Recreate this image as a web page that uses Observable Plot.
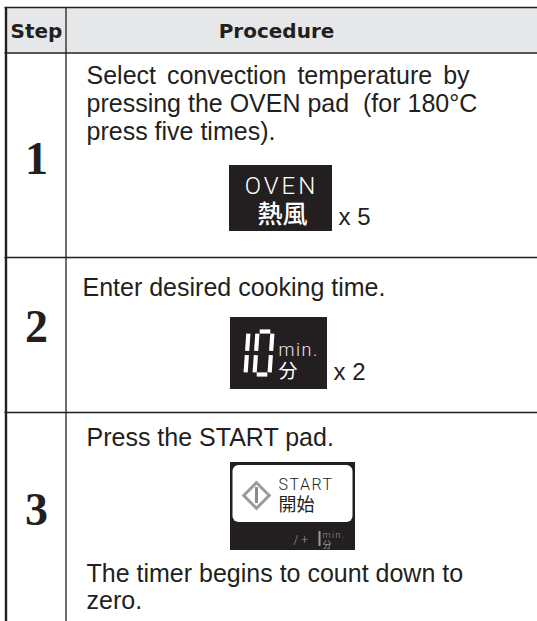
<!DOCTYPE html>
<html>
<head>
<meta charset="utf-8">
<script src="https://cdn.jsdelivr.net/npm/d3@7"></script>
<script src="https://cdn.jsdelivr.net/npm/@observablehq/plot@0.6"></script>
<style>
  html, body { margin: 0; padding: 0; background: #fff; }
</style>
</head>
<body>
<div id="chart"></div>
<script>
// ---------- content ----------
const headers = ["Step", "Procedure"];
const steps = ["1", "2", "3"];
const procedureLines = [
  ["Select convection temperature by", "pressing the OVEN pad\u00a0 (for 180°C", "press five times)."],
  ["Enter desired cooking time."],
  ["Press the START pad."]
];
const closingLines = [[], [], ["The timer begins to count down to", "zero."]];
const padLabels = ["OVEN", "10", "START"];
const padJapanese = ["熱風", "分", "開始"];
const padUnits = ["", "min.", ""];
const pressCounts = ["x 5", "x 2", ""];
const displayDigits = ["1", "0"];
const sevenSegments = {"0": "abcdef", "1": "bc"};
const startStrip = ["/ +", "min.", "分"];

// ---------- layout ----------
const W = 537, H = 621;
const ink = "#231f20";
const sans = "Liberation Sans, Arial, sans-serif";
const cjk = "Noto Sans CJK JP, sans-serif";
const grid = {left: 5.5, divider: 65.5, right: 537, top: 7, headerBottom: 52.5, rowBottoms: [257, 412, 621]};
const textX = [86, 82, 86];
const lineBaselines = [[83, 111, 139], [295], [445]];
const closingBaselines = [[], [], [581, 608]];
const stepBaselines = [173, 341, 524];
const padBoxes = [
  {x1: 229, x2: 332, y1: 165, y2: 231},
  {x1: 230, x2: 327, y1: 317, y2: 389},
  {x1: 230, x2: 355, y1: 462, y2: 550}
];
const countPos = [{x: 338, y: 224}, {x: 333, y: 379}];

// seven-segment geometry for the "10" display
const seg = {x0: 230, pitch: 24, w: 15, top: 331, bottom: 374, slant: 0.07, gap: 2.2};
function segLines() {
  const out = [];
  const mid = (seg.top + seg.bottom) / 2;
  const sk = (x, y) => x + (seg.bottom - y) * seg.slant;
  displayDigits.forEach((d, i) => {
    const x0 = seg.x0 + i * seg.pitch, x1 = x0 + seg.w, g = seg.gap;
    const defs = {
      a: [x0 + g, seg.top, x1 - g, seg.top],
      b: [x1, seg.top + g, x1, mid - g],
      c: [x1, mid + g, x1, seg.bottom - g],
      d: [x0 + g, seg.bottom, x1 - g, seg.bottom],
      e: [x0, mid + g, x0, seg.bottom - g],
      f: [x0, seg.top + g, x0, mid - g],
      g: [x0 + g, mid, x1 - g, mid]
    };
    for (const s of sevenSegments[d]) {
      const [ax, ay, bx, by] = defs[s];
      out.push({x1: sk(ax, ay), y1: ay, x2: sk(bx, by), y2: by});
    }
  });
  return out;
}

// ---------- derived tables ----------
const hLines = [
  {y: grid.top, w: 1.6},
  {y: grid.headerBottom, w: 1.4},
  ...grid.rowBottoms.slice(0, -1).map(y => ({y, w: 1.3}))
];
const vLines = [
  {x: grid.left, w: 2.4},
  {x: grid.divider, w: 1.3}
];
const bodyText = [];
procedureLines.forEach((lines, r) => lines.forEach((t, i) => bodyText.push({t, x: textX[r], y: lineBaselines[r][i]})));
closingLines.forEach((lines, r) => lines.forEach((t, i) => bodyText.push({t, x: textX[r], y: closingBaselines[r][i]})));
const stepText = steps.map((s, i) => ({t: s, x: (grid.left + grid.divider) / 2 + 0.5, y: stepBaselines[i]}));
const headerText = [
  {t: headers[0], x: (grid.left + grid.divider) / 2 + 0.5, y: 37},
  {t: headers[1], x: 276, y: 37}
];
const counts = pressCounts.filter(c => c).map((t, i) => ({t, ...countPos[i]}));

const plot = Plot.plot({
  width: W, height: H, margin: 0,
  x: {domain: [0, W], range: [0, W], axis: null},
  y: {domain: [0, H], range: [0, H], axis: null},
  style: {background: "#fff"},
  marks: [
    // header band
    Plot.rect([grid], {x1: "left", x2: "right", y1: "top", y2: "headerBottom", fill: "#e6e7e8"}),
    // grid lines
    Plot.ruleY(hLines, {y: "y", x1: grid.left - 1, x2: grid.right, stroke: ink, strokeWidth: "w"}),
    Plot.ruleX(vLines, {x: "x", y1: grid.top, y2: H, stroke: ink, strokeWidth: d => d.w}),
    // header text
    Plot.text(headerText, {x: "x", y: "y", text: "t", fontFamily: "DejaVu Sans, sans-serif", fontWeight: "bold", fontSize: 20, fill: ink, lineAnchor: "bottom"}),
    // step numbers
    Plot.text(stepText, {x: "x", y: "y", text: "t", fontFamily: "Liberation Serif, Times New Roman, serif", fontWeight: "bold", fontSize: 46, fill: ink, lineAnchor: "bottom"}),
    // procedure text
    Plot.text(bodyText, {x: "x", y: "y", text: "t", textAnchor: "start", fontFamily: sans, fontSize: 25, fill: ink, lineAnchor: "bottom"}),
    // press counts
    Plot.text(counts, {x: "x", y: "y", text: "t", textAnchor: "start", fontFamily: sans, fontSize: 24, fill: ink, lineAnchor: "bottom"}),
    // pad boxes (black)
    Plot.rect(padBoxes, {x1: "x1", x2: "x2", y1: "y1", y2: "y2", fill: ink}),
    // OVEN pad
    Plot.text([padLabels[0]], {x: 281, y: 193, text: d => d, fontFamily: "Roboto, sans-serif", fontWeight: 300, fontSize: 24, fill: "#fff", lineAnchor: "bottom"}),
    Plot.text([padJapanese[0]], {x: 282, y: 222, text: d => d, fontFamily: cjk, fontWeight: 500, fontSize: 25, fill: "#fff", lineAnchor: "bottom"}),
    // 10 min pad
    Plot.link(segLines(), {x1: "x1", y1: "y1", x2: "x2", y2: "y2", stroke: "#fff", strokeWidth: 4.2, strokeLinecap: "butt"}),
    Plot.text([padUnits[1]], {x: 278, y: 355, text: d => d, textAnchor: "start", fontFamily: "Roboto, sans-serif", fontWeight: 300, fontSize: 18, fill: "#e8e8e8", lineAnchor: "bottom"}),
    Plot.text([padJapanese[1]], {x: 278, y: 377, text: d => d, textAnchor: "start", fontFamily: cjk, fontSize: 19, fill: "#fff", lineAnchor: "bottom"}),
    // START pad
    Plot.rect([{x1: 232.5, x2: 352.5, y1: 465, y2: 522}], {x1: "x1", x2: "x2", y1: "y1", y2: "y2", fill: "#fff", rx: 6}),
    Plot.dot([{x: 256, y: 495}], {x: "x", y: "y", symbol: "diamond2", r: 11.5, stroke: "#9a9a9a", strokeWidth: 3}),
    Plot.ruleX([{x: 256}], {x: "x", y1: 487, y2: 503, stroke: "#8a8a8a", strokeWidth: 3}),
    Plot.text([padLabels[2]], {x: 278, y: 489, text: d => d, textAnchor: "start", fontFamily: "Roboto, sans-serif", fontWeight: 300, fontSize: 16, fill: ink, lineAnchor: "bottom"}),
    Plot.text([padJapanese[2]], {x: 278, y: 510, text: d => d, textAnchor: "start", fontFamily: cjk, fontSize: 18, fill: ink, lineAnchor: "bottom"}),
    Plot.text([startStrip[0]], {x: 293, y: 543, text: d => d, textAnchor: "start", fontFamily: "Roboto, sans-serif", fontWeight: 300, fontSize: 12, fill: "#9a9a9a", lineAnchor: "bottom"}),
    Plot.ruleX([{x: 319}], {x: "x", y1: 531, y2: 546, stroke: "#9a9a9a", strokeWidth: 2}),
    Plot.text([startStrip[1]], {x: 322, y: 537, text: d => d, textAnchor: "start", fontFamily: "Roboto, sans-serif", fontWeight: 300, fontSize: 9, fill: "#9a9a9a", lineAnchor: "bottom"}),
    Plot.text([startStrip[2]], {x: 322, y: 547, text: d => d, textAnchor: "start", fontFamily: cjk, fontSize: 9, fill: "#9a9a9a", lineAnchor: "bottom"})
  ]
});

const svg = d3.select(plot);
svg.selectAll("text").filter(function() { return this.textContent === padLabels[0]; }).style("letter-spacing", "3px");
svg.selectAll("text").filter(function() { return this.textContent === padLabels[2]; }).style("letter-spacing", "1.5px");
svg.selectAll("text").filter(function() { return this.textContent === padUnits[1]; }).style("letter-spacing", "1.5px");
svg.selectAll("text").filter(function() { return this.textContent === procedureLines[0][0]; }).style("word-spacing", "4px");
document.getElementById("chart").appendChild(plot);
</script>
</body>
</html>
